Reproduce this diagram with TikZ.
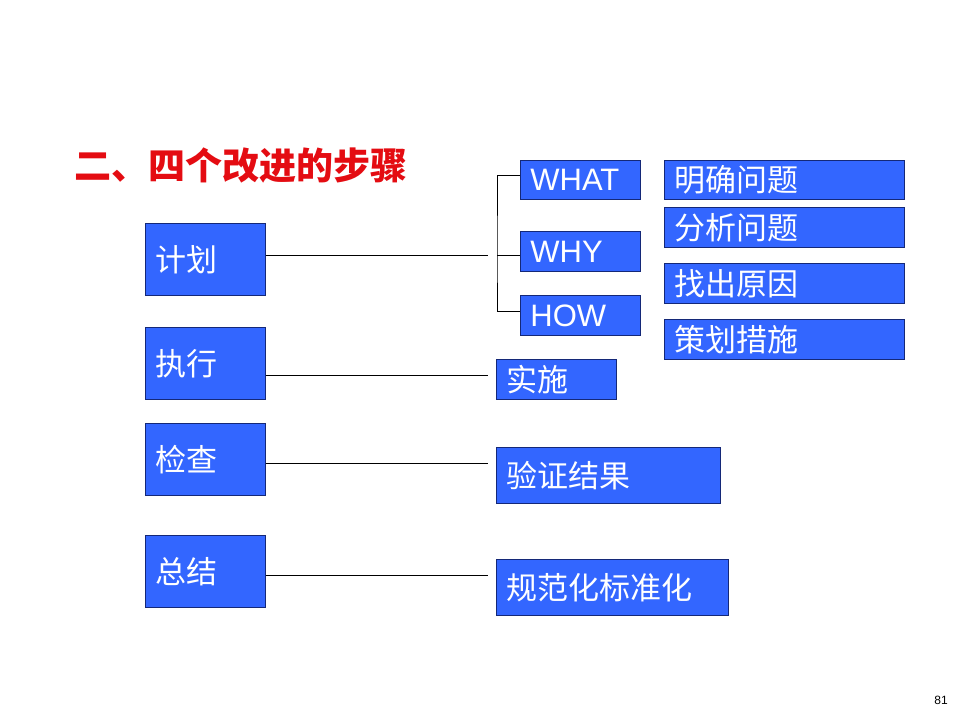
\documentclass[tikz,border=0pt]{standalone}
\usepackage{fontspec}
\usetikzlibrary{positioning}
\setmainfont{Liberation Sans}
\newfontfamily\cjk{Noto Sans CJK SC}
\definecolor{boxblue}{RGB}{51,102,255}
\definecolor{boxline}{RGB}{20,40,120}
\definecolor{titlered}{RGB}{228,12,18}
\tikzset{
  stepbox/.style={draw=boxline,line width=0.8pt,fill=boxblue,text=white,
    anchor=north west,inner xsep=10pt,inner ysep=0pt,align=left,font=\fontsize{31}{32}\selectfont\cjk},
  linkline/.style={line width=0.9pt,black}
}
\begin{document}
\begin{tikzpicture}[x=1pt,y=-1pt]
\useasboundingbox[fill=white] (0,0) rectangle (960,720);
% title
\node[anchor=west,text=titlered,font=\fontsize{37}{38}\selectfont\cjk\bfseries] (title) at (71,165) {二、四个改进的步骤};
% left column
\node[stepbox,text width=100pt,minimum height=72pt] (plan) at (145,223) {计划};
\node[stepbox,text width=100pt,minimum height=72pt] (do) at (145,327) {执行};
\node[stepbox,text width=100pt,minimum height=72pt] (check) at (145,423) {检查};
\node[stepbox,text width=100pt,minimum height=72pt] (act) at (145,535) {总结};
% plan branches
\node[stepbox,text width=100pt,minimum height=39pt,font=\fontsize{31}{32}\selectfont] (what) at (520,160) {WHAT};
\node[stepbox,text width=100pt,minimum height=40pt,font=\fontsize{31}{32}\selectfont] (why) at (520,231) {WHY};
\node[stepbox,text width=100pt,minimum height=40pt,font=\fontsize{31}{32}\selectfont] (how) at (520,295) {HOW};
\node[stepbox,text width=220pt,minimum height=39pt] (q1) at (664,160) {明确问题};
\node[stepbox,text width=220pt,minimum height=40pt] (q2) at (664,207) {分析问题};
\node[stepbox,text width=220pt,minimum height=40pt] (q3) at (664,263) {找出原因};
\node[stepbox,text width=220pt,minimum height=40pt] (q4) at (664,319) {策划措施};
% other steps
\node[stepbox,text width=100pt,minimum height=40pt] (run) at (496,359) {实施};
\node[stepbox,text width=204pt,minimum height=56pt] (verify) at (496,447) {验证结果};
\node[stepbox,text width=212pt,minimum height=56pt] (norm) at (496,559) {规范化标准化};
% connectors
\coordinate (e1) at (488,255);
\coordinate (e2) at (488,375);
\coordinate (e3) at (488,463);
\coordinate (e4) at (488,575);
\coordinate (fork) at (497,255);
\draw[linkline] (plan.east |- e1) -- (e1);
\draw[linkline] ([yshift=4pt]what.west) -| (fork) |- ([yshift=4pt]how.west);
\draw[linkline] (fork) -- (why.west |- fork);
\draw[linkline] (do.east |- e2) -- (e2);
\draw[linkline] (check.east |- e3) -- (e3);
\draw[linkline] (act.east |- e4) -- (e4);
% page number
\node[font=\fontsize{12}{14}\selectfont] (page) at (941,700) {81};
\end{tikzpicture}
\end{document}
